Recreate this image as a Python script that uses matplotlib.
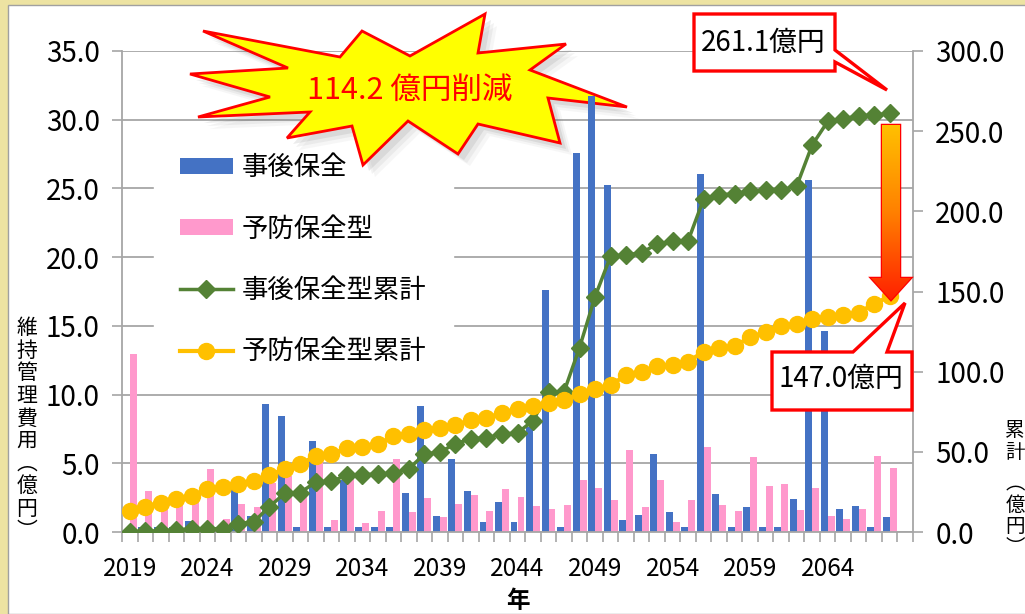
import numpy as np
import matplotlib.pyplot as plt
from matplotlib.patches import Polygon, Rectangle

plt.rcParams['font.family'] = ['Noto Sans CJK JP', 'DejaVu Sans']

# 年度ごとの維持管理費（億円）
years = list(range(2019, 2069))
corrective = [0.0, 0.4, 0.4, 0.4, 0.8, 0.0, 0.0, 3.2, 1.2, 9.35,
              8.45, 0.4, 6.6, 0.4, 3.8, 0.4, 0.4, 0.4, 2.85, 9.15,
              1.2, 5.3, 3.0, 0.75, 2.2, 0.75, 7.65, 17.6, 0.4, 27.6,
              31.7, 25.25, 0.85, 1.25, 5.65, 1.45, 0.4, 26.05, 2.75, 0.4,
              1.8, 0.4, 0.4, 2.4, 25.6, 14.65, 1.65, 1.9, 0.4, 1.1]
preventive = [12.95, 2.95, 2.35, 2.05, 2.15, 4.55, 0.95, 2.05, 1.85, 3.55,
              4.05, 2.75, 5.45, 0.85, 3.95, 0.65, 1.5, 5.3, 1.45, 2.45,
              1.1, 2.05, 2.7, 1.5, 3.15, 2.55, 1.9, 1.65, 2.0, 3.8,
              3.2, 2.3, 6.0, 1.8, 3.75, 0.7, 2.3, 6.2, 2.0, 1.55,
              5.45, 3.35, 3.5, 1.6, 3.2, 1.15, 0.95, 1.65, 5.5, 4.65]

# 累計（億円）
corrective_cum = [0.0, 0.4, 0.8, 1.2, 2.0, 2.0, 2.0, 5.2, 6.4, 15.75,
                  24.2, 24.6, 31.2, 31.6, 35.4, 35.8, 36.2, 36.6, 39.45, 48.6,
                  49.8, 55.1, 58.1, 58.85, 61.05, 61.8, 69.45, 87.05, 87.45, 115.05,
                  146.75, 172.0, 172.85, 174.1, 179.75, 181.2, 181.6, 207.65, 210.4, 210.8,
                  212.6, 213.0, 213.4, 215.8, 241.4, 256.05, 257.7, 259.6, 260.0, 261.1]
preventive_cum = [12.95, 15.9, 18.25, 20.3, 22.45, 27.0, 27.95, 30.0, 31.85, 35.4,
                  39.45, 42.2, 47.65, 48.5, 52.45, 53.1, 54.6, 59.9, 61.35, 63.8,
                  64.9, 66.95, 69.65, 71.15, 74.3, 76.85, 78.75, 80.4, 82.4, 86.2,
                  89.4, 91.7, 97.7, 99.5, 103.25, 103.95, 106.25, 112.45, 114.45, 116.0,
                  121.45, 124.8, 128.3, 129.9, 133.1, 134.25, 135.2, 136.85, 142.35, 147.0]

series_names = ['事後保全', '予防保全型', '事後保全型累計', '予防保全型累計']
reduction_text = '114.2 億円削減'

W, H = 1025, 614
grid_c = '#A6A6A6'

fig = plt.figure(figsize=(W / 100, H / 100), dpi=100, facecolor='#EDE3A2')
fig.add_artist(Rectangle((8 / W, 0), 1, 1 - 5 / H, transform=fig.transFigure,
                         facecolor='white', edgecolor='#A0A0A0', lw=1, zorder=-5))

# ピクセル座標（左上原点）用のオーバーレイ
ov = fig.add_axes([0, 0, 1, 1], zorder=10)
ov.set_xlim(0, W)
ov.set_ylim(H, 0)
ov.axis('off')
px = ov.transData

ax = fig.add_axes([122 / W, (H - 532) / H, (913 - 122) / W, (532 - 51) / H])
x = np.arange(len(years))
b1 = ax.bar(x - 0.225, corrective, 0.45, color='#4472C4', zorder=2)
b2 = ax.bar(x + 0.225, preventive, 0.45, color='#FF99CC', zorder=2)
ax.set_xlim(-0.5, len(years) + 0.5)
ax.set_ylim(0, 35)
ax.set_yticks(np.arange(0, 36, 5))
ax.set_yticklabels([f'{v:.1f}' for v in np.arange(0, 36, 5)])
ax.yaxis.grid(True, color=grid_c, lw=1.3)
ax.set_axisbelow(True)
ax.set_xticks(x[::5])
ax.set_xticklabels([str(y) for y in years[::5]])
ax.set_xticks(np.arange(-0.5, len(years) + 1), minor=True)
ax.tick_params(axis='x', which='major', length=0, labelsize=17.5, pad=17)
ax.tick_params(axis='x', which='minor', length=7, color=grid_c, width=1.2)
ax.tick_params(axis='y', length=7, color=grid_c, width=1.2, labelsize=20, pad=9)
ax.set_xlabel('年', fontsize=17, fontweight='bold', labelpad=5)
for s in ['top', 'right']:
    ax.spines[s].set_visible(False)
for s in ['left', 'bottom']:
    ax.spines[s].set_color(grid_c)
    ax.spines[s].set_linewidth(1.3)

ax2 = ax.twinx()
l1, = ax2.plot(x, corrective_cum, color='#548235', lw=2.5, marker='D', ms=9.5, zorder=3)
l2, = ax2.plot(x, preventive_cum, color='#FFC000', lw=3, marker='o', ms=11.5, zorder=3)
ax2.set_ylim(0, 300)
ax2.set_yticks(np.arange(0, 301, 50))
ax2.set_yticklabels([f'{v:.1f}' for v in np.arange(0, 301, 50)])
ax2.tick_params(axis='y', length=7, color=grid_c, width=1.2, labelsize=20, pad=9)
for s in ['top', 'left', 'bottom']:
    ax2.spines[s].set_visible(False)
ax2.spines['right'].set_color(grid_c)
ax2.spines['right'].set_linewidth(1.3)

leg = ax.legend([b1, b2, l1, l2], series_names, loc='upper left',
                bbox_to_anchor=(0.04, 0.84), borderaxespad=0, fontsize=19,
                frameon=True, fancybox=False, framealpha=1, facecolor='white',
                edgecolor='white', handlelength=2.0, handleheight=0.55,
                handletextpad=0.35, labelspacing=1.3, borderpad=1.0)
leg.set_zorder(1.5)

# 縦書きの軸ラベル
left_chars = ['維', '持', '管', '理', '費', '用', '︵', '億', '円', '︶']
for i, ch in enumerate(left_chars):
    ov.text(27, 328 + 22.6 * i, ch, fontsize=15, ha='center', va='center')
right_chars = [('累', 431), ('計', 452), ('︵', 484), ('億', 505), ('円', 526), ('︶', 547)]
for ch, yy in right_chars:
    ov.text(1015, yy, ch, fontsize=14, ha='center', va='center')

# 削減額の爆発図形（棒グラフの下に描く）
star = np.array([(203, 31), (340, 57), (362, 31), (410, 56), (485, 14), (478, 53),
                 (566, 44), (530, 70), (627, 107), (548, 98), (560, 143), (478, 124),
                 (458, 154), (408, 121), (363, 165), (352, 126), (287, 138), (310, 112),
                 (198, 117), (270, 97), (190, 74), (288, 68)], dtype=float)
for k, a in [(12, 0.05), (9, 0.08), (6, 0.12)]:
    ax.add_patch(Polygon(star + k, closed=True, transform=px, facecolor='#606060',
                         edgecolor='none', alpha=a, zorder=1.7, clip_on=False))
ax.add_patch(Polygon(star, closed=True, transform=px, facecolor='#FFFF00',
                     edgecolor='#FF0000', lw=2, zorder=1.8, clip_on=False))
ax.text(410, 90, reduction_text, transform=px, color='#FF0000', fontsize=22,
        ha='center', va='center', zorder=1.9, clip_on=False)

# 吹き出しと矢印
call_top = [(694, 14), (835, 14), (835, 50), (887, 90), (835, 62), (835, 71), (694, 71)]
ov.add_patch(Polygon(call_top, closed=True, facecolor='white', edgecolor='#FF0000', lw=2.4))
ov.text(763, 43, f'{corrective_cum[-1]:.1f}億円', fontsize=20, ha='center', va='center')

call_bot = [(772, 352), (853, 352), (905, 303), (887, 352), (912, 352), (912, 410), (772, 410)]
ov.add_patch(Polygon(call_bot, closed=True, facecolor='white', edgecolor='#FF0000', lw=2.4))
ov.text(841, 379, f'{preventive_cum[-1]:.1f}億円', fontsize=20, ha='center', va='center')

arrow = Polygon([(882, 125), (900, 125), (900, 278), (911, 278), (891, 300),
                 (871, 278), (882, 278)], closed=True, facecolor='none',
                edgecolor='#FF0000', lw=1.8)
ov.add_patch(arrow)
grad = np.linspace(0, 1, 256)[:, None]
cmap = plt.matplotlib.colors.LinearSegmentedColormap.from_list(
    'fire', ['#FFC000', '#FF8000', '#FF2000'])
img = ov.imshow(grad, cmap=cmap, extent=(870, 912, 300, 125), aspect='auto', zorder=1)
img.set_clip_path(arrow)
ov.set_xlim(0, W)
ov.set_ylim(H, 0)

fig.savefig('out.png', dpi=100, facecolor=fig.get_facecolor())
